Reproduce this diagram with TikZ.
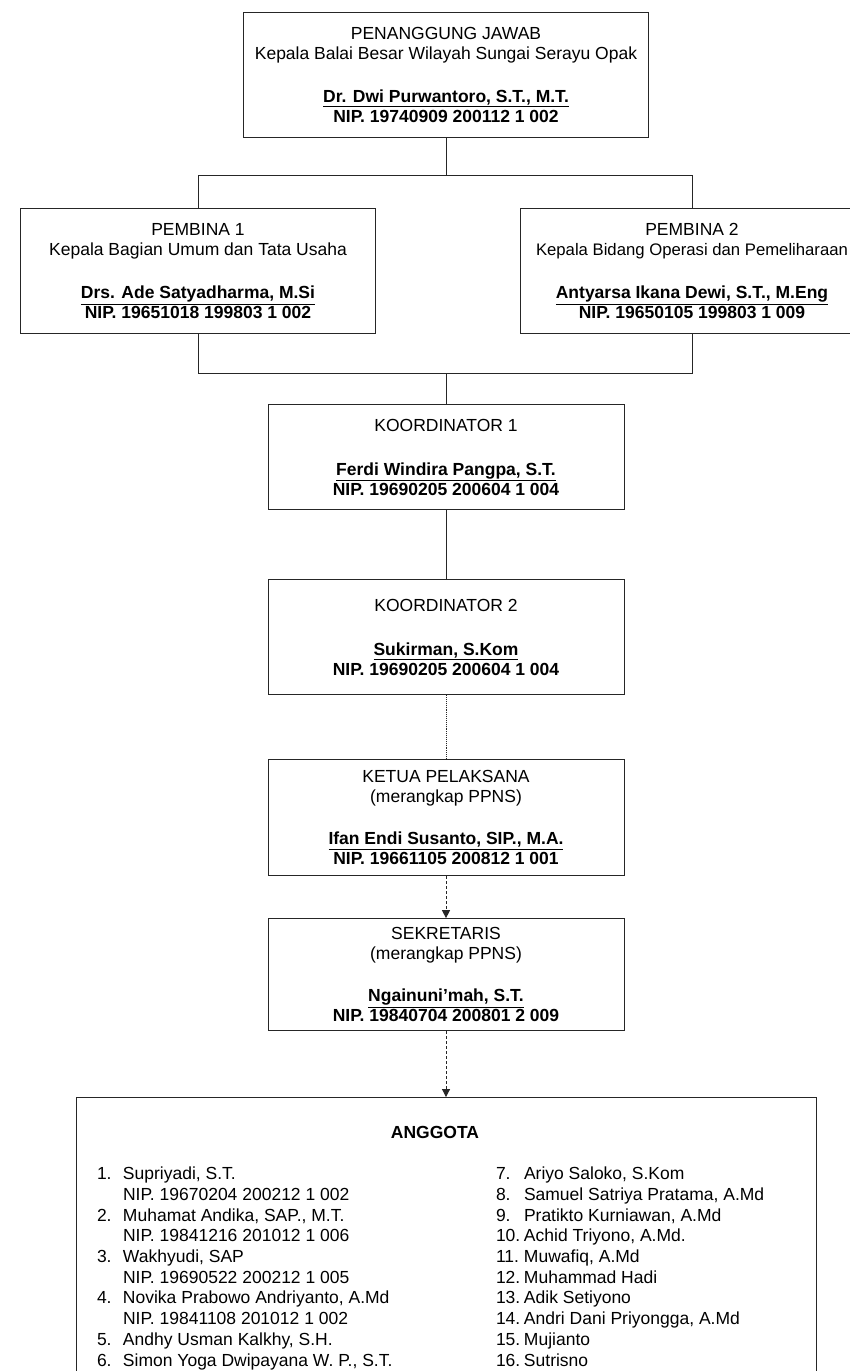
\documentclass[tikz,border=0pt]{standalone}
\usepackage{fontspec}
\setmainfont{Liberation Sans}
\usetikzlibrary{positioning,arrows.meta}

\newcommand{\nama}[1]{\textbf{\underline{#1}}}

\begin{document}
\begin{tikzpicture}
\tikzstyle{box} = [rectangle, draw=black!85, line width=0.9pt, align=center, inner sep=0pt, font=\fontsize{17.5}{20}\selectfont]
\tikzstyle{pjbox} = [box, minimum width=405pt, minimum height=125pt]
\tikzstyle{pbbox} = [box, minimum height=125pt]
\tikzstyle{kobox} = [box, minimum width=356pt]
\tikzstyle{member} = [box, inner xsep=21pt, inner ysep=29pt, minimum width=740pt]
\tikzstyle{line} = [draw=black!85, line width=0.9pt]
\tikzstyle{dotline} = [line, densely dotted]
\tikzstyle{arrow} = [line, densely dashed, -{Triangle[length=8pt,width=8pt]}]

\useasboundingbox (0,0) rectangle (849pt,-1371pt);

%nodes
\node (pj) [pjbox] at (446pt,-74.5pt) {PENANGGUNG JAWAB\\ Kepala Balai Besar Wilayah Sungai Serayu Opak\\[23pt] \nama{Dr. Dwi Purwantoro, S.T., M.T.}\\ \textbf{NIP. 19740909 200112 1 002}};
\node (pb1) [pbbox, minimum width=355pt, below=71pt of pj, xshift=-248pt] {PEMBINA 1\\ Kepala Bagian Umum dan Tata Usaha\\[23pt] \nama{Drs. Ade Satyadharma, M.Si}\\ \textbf{NIP. 19651018 199803 1 002}};
\node (pb2) [pbbox, minimum width=344pt, below=71pt of pj, xshift=246pt] {PEMBINA 2\\ {\fontsize{16.7}{20}\selectfont Kepala Bidang Operasi dan Pemeliharaan}\\[23pt] \nama{Antyarsa Ikana Dewi, S.T., M.Eng}\\ \textbf{NIP. 19650105 199803 1 009}};
\node (ko1) [kobox, minimum height=105pt, below=267pt of pj] {KOORDINATOR 1\\[24pt] \nama{Ferdi Windira Pangpa, S.T.}\\ \textbf{NIP. 19690205 200604 1 004}};
\node (ko2) [kobox, minimum height=115pt, below=69pt of ko1] {KOORDINATOR 2\\[24pt] \nama{Sukirman, S.Kom}\\ \textbf{NIP. 19690205 200604 1 004}};
\node (ketua) [kobox, minimum height=116pt, below=64pt of ko2] {KETUA PELAKSANA\\ (merangkap PPNS)\\[22pt] \nama{Ifan Endi Susanto, SIP., M.A.}\\ \textbf{NIP. 19661105 200812 1 001}};
\node (sek) [kobox, minimum height=112pt, below=42pt of ketua] {SEKRETARIS\\ (merangkap PPNS)\\[22pt] \nama{Ngainuni'mah, S.T.}\\ \textbf{NIP. 19840704 200801 2 009}};
\node (anggota) [member, below=66pt of sek] {\hspace*{-22pt}\textbf{ANGGOTA}\\[21pt]
  \fontsize{17.5}{20.7}\selectfont
  \begin{tabular}[t]{@{}p{26pt}@{}p{373pt}@{}p{28pt}@{}p{271pt}@{}}
  1. & Supriyadi, S.T. & 7. & Ariyo Saloko, S.Kom\\
     & NIP. 19670204 200212 1 002 & 8. & Samuel Satriya Pratama, A.Md\\
  2. & Muhamat Andika, SAP., M.T. & 9. & Pratikto Kurniawan, A.Md\\
     & NIP. 19841216 201012 1 006 & 10. & Achid Triyono, A.Md.\\
  3. & Wakhyudi, SAP & 11. & Muwafiq, A.Md\\
     & NIP. 19690522 200212 1 005 & 12. & Muhammad Hadi\\
  4. & Novika Prabowo Andriyanto, A.Md & 13. & Adik Setiyono\\
     & NIP. 19841108 201012 1 002 & 14. & Andri Dani Priyongga, A.Md\\
  5. & Andhy Usman Kalkhy, S.H. & 15. & Mujianto\\
  6. & Simon Yoga Dwipayana W. P., S.T. & 16. & Sutrisno
  \end{tabular}};

%arrows
\draw [line] (pj.south) -- ++(0,-38pt) -| (pb1.north);
\draw [line] (pj.south) -- ++(0,-38pt) -| (pb2.north);
\draw [line] (pb1.south) -- ++(0,-39pt) -| (ko1.north);
\draw [line] (pb2.south) -- ++(0,-39pt) -| (ko1.north);
\draw [line] (ko1) -- (ko2);
\draw [dotline] (ko2) -- (ketua);
\draw [arrow] (ketua) -- (sek);
\draw [arrow] (sek) -- (anggota);
\end{tikzpicture}
\end{document}
